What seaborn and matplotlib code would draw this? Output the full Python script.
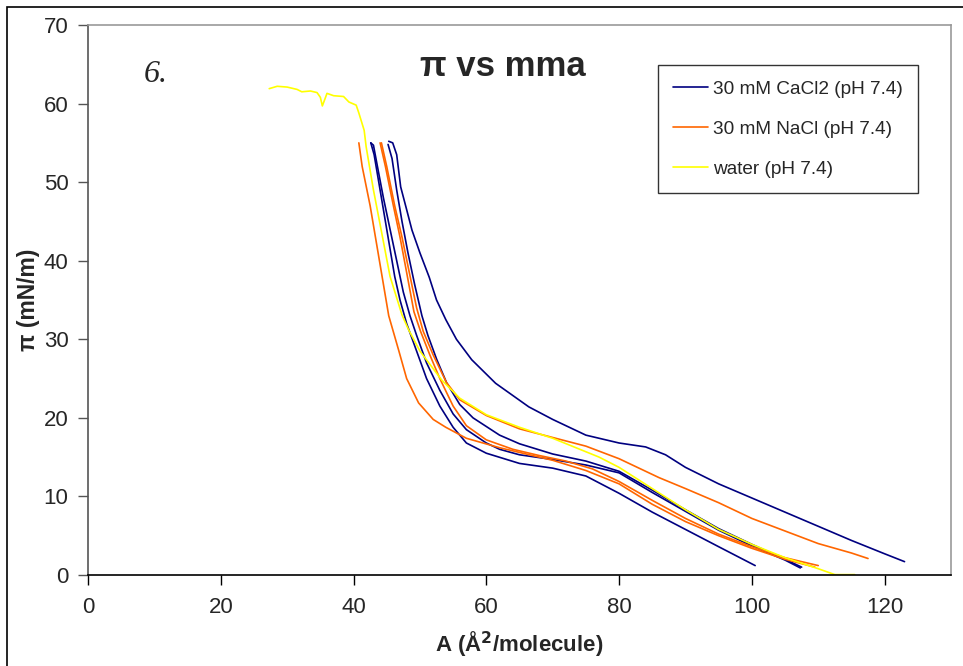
import numpy as np
import pandas as pd
import matplotlib
matplotlib.use("Agg")
import matplotlib.pyplot as plt
import seaborn as sns
from matplotlib.lines import Line2D
from matplotlib.patches import Rectangle

# ---- data ----
series_names = ["30 mM CaCl2 (pH 7.4)", "30 mM NaCl (pH 7.4)", "water (pH 7.4)"]
series_colors = ["#000080", "#FF6600", "#FFFF00"]

# CaCl2 runs
ca_c_A = [45.3, 45.9, 46.5, 47.1, 48.0, 48.8, 50.0, 51.4, 52.5, 53.9, 55.5, 57.8, 61.4, 66.4, 70, 75, 80, 84, 87, 90, 95, 100, 105, 110, 115, 120, 123]
ca_c_P = [55.2, 55.0, 53.5, 49.4, 46.5, 43.9, 41.0, 37.9, 35.0, 32.5, 30.0, 27.4, 24.4, 21.4, 19.8, 17.8, 16.8, 16.3, 15.3, 13.7, 11.6, 9.8, 8.0, 6.2, 4.4, 2.7, 1.7]
ca_b1_A = [45.2, 45.8, 46.5, 47.3, 48.2, 49.2, 50.3, 51.2, 52.5, 54, 56, 58, 62, 65, 70, 75, 80, 85, 90, 95, 100, 105, 107.5]
ca_b1_P = [54.8, 53.0, 49.0, 45.0, 41.0, 37.0, 33.0, 30.5, 27.5, 24.5, 21.7, 20.0, 17.8, 16.7, 15.4, 14.5, 13.2, 10.8, 8.3, 5.9, 3.9, 2.0, 1.0]
ca_b2_A = [42.6, 43.0, 43.6, 44.5, 45.5, 46.5, 47.5, 48.5, 49.5, 51, 53, 55, 57, 60, 62, 65, 70, 75, 80, 85, 90, 95, 100, 105, 107.3]
ca_b2_P = [55.0, 54.7, 52.0, 48.0, 44.0, 40.0, 36.0, 33.0, 30.5, 27.0, 23.5, 20.5, 18.5, 16.8, 16.0, 15.3, 14.7, 14.0, 13.0, 10.5, 8.1, 5.7, 3.7, 1.9, 0.9]
ca_a_A = [42.6, 43.1, 43.8, 44.6, 45.4, 46.2, 47, 48, 49.5, 51, 53, 55, 57, 60, 65, 70, 75, 80, 85, 90, 95, 100.5]
ca_a_P = [55.0, 53.5, 50.0, 46.0, 42.0, 38.0, 35.0, 32.0, 28.5, 25.0, 21.5, 18.8, 16.8, 15.5, 14.2, 13.6, 12.6, 10.4, 8.0, 5.8, 3.6, 1.2]

# NaCl runs
na_a_A = [40.8, 41.3, 42.5, 43.5, 44.5, 45.3, 46.8, 48, 49.8, 52, 53.9, 57, 62, 66, 70, 75, 80, 85, 90, 95, 100, 105, 109.5]
na_a_P = [55.0, 52.0, 47.0, 42.0, 37.0, 33.0, 28.6, 25.0, 21.9, 19.8, 18.8, 17.4, 16.2, 15.4, 14.6, 13.3, 11.6, 9.0, 6.8, 5.0, 3.4, 2.0, 1.0]
na_b_A = [44.0, 44.8, 46.0, 47.0, 48.0, 49.1, 50.1, 51.5, 53, 55, 57, 60, 64, 68, 72, 76, 80, 85, 90, 95, 100, 105, 110]
na_b_P = [55.0, 52.0, 47.0, 43.0, 38.5, 33.5, 31.0, 28.0, 25.0, 21.5, 19.0, 17.2, 16.0, 15.2, 14.5, 13.5, 11.9, 9.5, 7.2, 5.2, 3.6, 2.2, 1.2]
na_c_A = [44.2, 45.0, 46.2, 47.3, 48.4, 49.5, 50.5, 52, 54, 56, 60, 65, 70, 75, 80, 86, 90, 95, 100, 105, 110, 115, 117.5]
na_c_P = [55.0, 52.0, 47.0, 43.0, 38.5, 34.0, 31.0, 28.0, 24.5, 22.3, 20.3, 18.6, 17.5, 16.4, 14.8, 12.4, 11.0, 9.2, 7.2, 5.6, 4.0, 2.8, 2.1]

# water run
w_A = [27.3, 28.5, 30.0, 31.5, 32.2, 33.5, 34.5, 35.0, 35.3, 35.7, 36.0, 37.0, 38.5, 39.3, 40.4, 40.8, 41.6, 41.9, 43.0, 44.3, 45.5, 47.3, 48.3, 50, 53.3, 56, 60, 65, 70, 77, 80, 85, 90, 95, 100, 105, 110, 112.5, 115.5]
w_P = [61.9, 62.2, 62.1, 61.8, 61.5, 61.6, 61.4, 60.8, 59.7, 60.6, 61.3, 61.0, 60.9, 60.2, 59.8, 58.8, 56.6, 54.5, 49.0, 43.3, 38.0, 33.1, 31.2, 28.5, 24.8, 22.5, 20.4, 18.8, 17.4, 15.0, 13.7, 11.0, 8.3, 5.8, 3.9, 2.2, 0.8, 0.05, 0.05]

x_ticks = [0, 20, 40, 60, 80, 100, 120]
y_ticks = [0, 10, 20, 30, 40, 50, 60, 70]

runs = [
    (series_names[0], "ca_c", ca_c_A, ca_c_P),
    (series_names[0], "ca_b1", ca_b1_A, ca_b1_P),
    (series_names[0], "ca_b2", ca_b2_A, ca_b2_P),
    (series_names[0], "ca_a", ca_a_A, ca_a_P),
    (series_names[1], "na_a", na_a_A, na_a_P),
    (series_names[1], "na_b", na_b_A, na_b_P),
    (series_names[1], "na_c", na_c_A, na_c_P),
    (series_names[2], "w", w_A, w_P),
]
frames = []
for s, r, a, p in runs:
    frames.append(pd.DataFrame({"A": a, "P": p, "series": s, "run": r}))
df = pd.concat(frames, ignore_index=True)

# ---- plotting ----
sns.set_style("white")
plt.rcParams["font.family"] = ["Liberation Sans", "DejaVu Sans"]

W, H = 963, 666
fig = plt.figure(figsize=(W / 100, H / 100), dpi=100)
ax = fig.add_axes([88 / W, 1 - 575 / H, (951 - 88) / W, (575 - 25) / H])

palette = dict(zip(series_names, series_colors))
sns.lineplot(data=df, x="A", y="P", hue="series", units="run", estimator=None,
             sort=False, palette=palette, linewidth=1.2, ax=ax, legend=False)

ax.set_xlim(0, 130)
ax.set_ylim(0, 70)
ax.set_xticks(x_ticks)
ax.set_yticks(y_ticks)
ax.tick_params(axis="x", direction="out", length=7, width=1, color="#000000", pad=9, labelsize=16)
ax.tick_params(axis="y", direction="out", length=7, width=1, color="#555555", pad=7, labelsize=16)
ax.tick_params(bottom=True, left=True)

ax.spines["left"].set_color("#555555")
ax.spines["bottom"].set_color("#000000")
ax.spines["top"].set_color("#999999")
ax.spines["right"].set_color("#999999")
for sp in ax.spines.values():
    sp.set_linewidth(1.2)

ax.set_xlabel("A (Å$^{\\mathbf{2}}$/molecule)", fontsize=16, fontweight="bold", labelpad=8)
ax.set_ylabel("π (mN/m)", fontsize=16.5, fontweight="bold", labelpad=3)

ax.text((503 - 88) / 863, 1 - (66 - 25) / 550, "π vs mma", transform=ax.transAxes,
        ha="center", va="center", fontsize=25, fontweight="bold")
ax.text((144 - 88) / 863, 1 - (74 - 25) / 550, "6.", transform=ax.transAxes,
        ha="left", va="center", fontsize=23, fontstyle="italic",
        family=["Liberation Serif", "DejaVu Serif"])

handles = [Line2D([0], [0], color=c, linewidth=1.2) for c in series_colors]
leg = ax.legend(handles, series_names, loc="upper left",
                bbox_to_anchor=((658 - 88) / 863, 1 - (65 - 25) / 550),
                borderaxespad=0, frameon=True, fancybox=False, fontsize=13.7,
                handlelength=1.85, handletextpad=0.26, labelspacing=1.2,
                borderpad=0.8, edgecolor="#000000")
leg.get_frame().set_linewidth(1.0)

# outer chart border
fig.patches.append(Rectangle((7 / W, -0.05), 1.1, 1 - 7 / H + 0.05, transform=fig.transFigure,
                             fill=False, edgecolor="#000000", linewidth=1.2))

fig.savefig("out.png", dpi=100)
